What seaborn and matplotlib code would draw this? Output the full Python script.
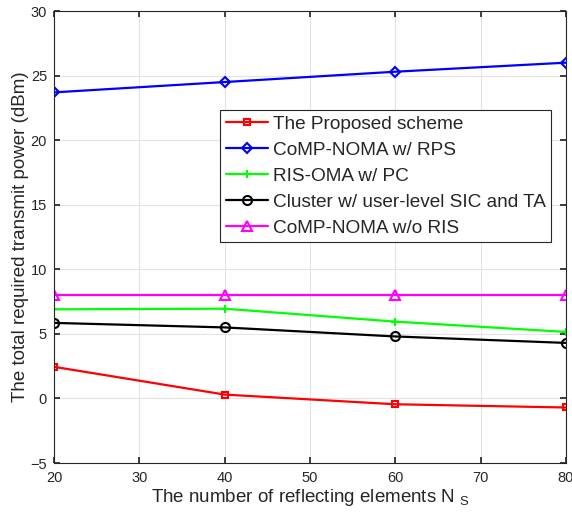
import matplotlib
matplotlib.use("Agg")
import matplotlib.pyplot as plt
import seaborn as sns
import pandas as pd

x_vals = [20, 40, 60, 80]
proposed = [2.45, 0.3, -0.45, -0.7]
comp_rps = [23.7, 24.5, 25.3, 26.0]
ris_oma = [6.9, 6.95, 5.95, 5.15]
cluster = [5.85, 5.5, 4.8, 4.3]
comp_wo_ris = [8.0, 8.0, 8.0, 8.0]

labels = ["The Proposed scheme", "CoMP-NOMA w/ RPS", "RIS-OMA w/ PC",
          "Cluster w/ user-level SIC and TA", "CoMP-NOMA w/o RIS"]
series = [proposed, comp_rps, ris_oma, cluster, comp_wo_ris]
colors = ["#ff0000", "#0000ff", "#00ff00", "#000000", "#ff00ff"]
markers = ["s", "D", "+", "o", "^"]
msizes = [5, 5.5, 6, 6.5, 7]

sns.set_theme(style="whitegrid")
plt.rcParams['font.family'] = ['Liberation Sans', 'DejaVu Sans']
plt.rcParams['mathtext.fontset'] = 'custom'
plt.rcParams['mathtext.rm'] = 'Liberation Sans'
plt.rcParams['mathtext.it'] = 'Liberation Sans'

fig = plt.figure(figsize=(5.72, 5.17), dpi=100)
ax = fig.add_axes([0.0944, 0.1044, 0.8951, 0.8743])

for lab, ys, c, m, ms in zip(labels, series, colors, markers, msizes):
    df = pd.DataFrame({"x": x_vals, "y": ys})
    sns.lineplot(data=df, x="x", y="y", ax=ax, color=c, marker=m, markersize=ms,
                 linewidth=1.6, label=lab,
                 markerfacecolor='none' if m != '+' else c,
                 markeredgecolor=c, markeredgewidth=1.5)

ax.set_xlim(20, 80)
ax.set_ylim(-5, 30)
ax.set_xticks([20, 30, 40, 50, 60, 70, 80])
ax.set_yticks([-5, 0, 5, 10, 15, 20, 25, 30])
ax.tick_params(axis='both', labelsize=10.5, colors='#262626', length=4, direction='in',
               bottom=True, left=True, top=True, right=True)
ax.tick_params(axis='x', pad=6)
ax.tick_params(axis='y', pad=5)
ax.set_facecolor('white')
ax.grid(True, color='#e3e3e3', linewidth=0.8)
for s in ax.spines.values():
    s.set_color('#262626')
    s.set_linewidth(0.8)
ax.set_xlabel(r"The number of reflecting elements N $_{\mathrm{S}}$", fontsize=13.5, color='#262626', labelpad=1)
ax.set_ylabel("The total required transmit power (dBm)", fontsize=13.5, color='#262626', labelpad=1)

leg = ax.legend(loc='upper right', bbox_to_anchor=(0.971, 0.781), fontsize=13.7,
                frameon=True, fancybox=False, edgecolor='#262626', framealpha=1,
                borderpad=0.3, labelspacing=0.45, handlelength=2.2, handletextpad=0.25,
                borderaxespad=0)
leg.get_frame().set_linewidth(0.8)

fig.savefig("out.png", dpi=100)
